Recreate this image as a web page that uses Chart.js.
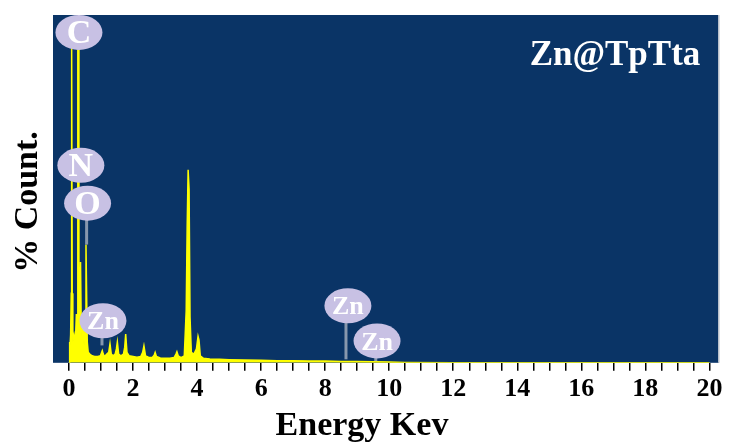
<!DOCTYPE html>
<html>
<head>
<meta charset="utf-8">
<script src="https://cdn.jsdelivr.net/npm/chart.js@4/dist/chart.umd.min.js"></script>
<style>
    body { margin: 0; background: #ffffff; }
    #wrap { width: 729px; height: 443px; }
</style>
</head>
<body>
<div id="wrap"><canvas id="edsChart" width="729" height="443"></canvas></div>
<script>
/* ===================================================== */
/* DATA                                                    */
/* ===================================================== */

// energy (keV) and relative counts (%)
const energy = [
    0.00, 0.01, 0.03, 0.05, 0.07, 0.075, 0.09, 0.10, 0.12, 0.16, 0.20,
    0.23, 0.25, 0.27, 0.28, 0.295, 0.31, 0.33, 0.36, 0.38, 0.41, 0.44,
    0.47, 0.50, 0.53, 0.55, 0.57, 0.60, 0.65, 0.72, 0.80, 0.90,
    0.98, 1.04, 1.07, 1.11, 1.18, 1.24, 1.28, 1.32, 1.38, 1.44,
    1.48, 1.51, 1.55, 1.62, 1.70, 1.74, 1.77, 1.81, 1.88, 2.00,
    2.12, 2.24, 2.30, 2.34, 2.39, 2.48, 2.60, 2.66, 2.69, 2.73,
    2.85, 3.00, 3.15, 3.28, 3.34, 3.37, 3.41, 3.50, 3.60, 3.66,
    3.69, 3.72, 3.75, 3.78, 3.82, 3.90, 3.98, 4.03, 4.06, 4.10,
    4.20, 4.40, 4.70, 5.00, 5.50, 6.00, 6.50, 7.00, 7.50, 8.00,
    8.50, 9.00, 9.50, 10.00, 10.50, 12.00, 16.00, 20.00
];
const counts = [
    0, 6, 3, 8, 20, 93, 93, 20, 6, 8, 6,
    14, 8, 20, 92, 92, 20, 10, 29, 12, 7, 10,
    5, 12, 34, 20, 6, 3, 2.5, 2, 1.8, 1.8,
    2, 3.5, 2.5, 1.8, 2.5, 3, 5.5, 2.5, 2, 2.5,
    4, 6, 2.5, 2, 2.5, 4.5, 8.3, 3, 2, 1.8,
    1.6, 1.8, 3, 4.9, 2, 1.6, 1.5, 2.2, 3, 1.8,
    1.4, 1.3, 1.3, 1.5, 2.5, 3.2, 2, 1.5, 2, 15,
    39, 55.5, 50, 13, 3, 2.5, 4, 7.6, 6.5, 2,
    1.3, 1.1, 1, 0.9, 0.8, 0.7, 0.6, 0.6, 0.5, 0.5,
    0.4, 0.4, 0.3, 0.2, 0.1, 0.05, 0, 0
];

// peak labels: centre of the bubble (keV, %) and where the stem ends (%)
const peakNames = ['C', 'N', 'O', 'Zn', 'Zn', 'Zn'];
const peakEnergy = [0.31, 0.37, 0.58, 1.06, 8.71, 9.62];
const peakLevel = [95, 56.8, 45.9, 12.1, 16.4, 6.3];
const stemEnergy = [0.28, 0.37, 0.55, 1.03, 8.65, 9.58];
const stemEnd = [90, 56.8, 34, 5, 1, 0.5];

const sampleName = 'Zn@TpTta';
const xTitle = 'Energy Kev';
const yTitle = '% Count.';

/* ===================================================== */
/* PLUGINS                                                 */
/* ===================================================== */

const SERIF = "'Liberation Serif', 'Times New Roman', serif";

const backdrop = {
    id: 'backdrop',
    beforeDraw(chart) {
        const { ctx, chartArea: a } = chart;
        ctx.save();
        ctx.fillStyle = '#ffffff';
        ctx.fillRect(0, 0, chart.width, chart.height);
        ctx.fillStyle = '#0a3466';
        ctx.fillRect(a.left, a.top, a.right - a.left, a.bottom - a.top);
        ctx.fillStyle = '#b7bfca';
        ctx.fillRect(a.right - 1, a.top, 1.5, a.bottom - a.top);
        ctx.restore();
    }
};

const peakLabels = {
    id: 'peakLabels',
    afterDatasetsDraw(chart) {
        const { ctx, scales: { x, y } } = chart;
        ctx.save();
        peakNames.forEach((name, i) => {
            const cx = x.getPixelForValue(peakEnergy[i]);
            const cy = y.getPixelForValue(peakLevel[i]);
            const sx = x.getPixelForValue(stemEnergy[i]);
            const sy = y.getPixelForValue(stemEnd[i]);

            // stem
            ctx.strokeStyle = '#8797ad';
            ctx.lineWidth = 3;
            ctx.beginPath();
            ctx.moveTo(sx, cy);
            ctx.lineTo(sx, sy);
            ctx.stroke();

            // bubble
            ctx.fillStyle = '#c8c1e4';
            ctx.beginPath();
            ctx.ellipse(cx, cy, 23.5, 17.5, 0, 0, Math.PI * 2);
            ctx.fill();

            // single letters are set larger than "Zn"
            const size = name.length === 1 ? 34 : 26;
            ctx.fillStyle = '#ffffff';
            ctx.font = 'bold ' + size + 'px ' + SERIF;
            ctx.textAlign = 'center';
            ctx.textBaseline = 'middle';
            ctx.fillText(name, cx, cy + 2);
        });
        ctx.restore();
    }
};

const titles = {
    id: 'titles',
    afterDraw(chart) {
        const { ctx, chartArea: a } = chart;
        ctx.save();
        ctx.fillStyle = '#ffffff';
        ctx.font = 'bold 35px ' + SERIF;
        ctx.textAlign = 'center';
        ctx.textBaseline = 'alphabetic';
        ctx.fillText(sampleName, a.right - 104, a.top + 50);

        ctx.fillStyle = '#000000';
        ctx.font = 'bold 34px ' + SERIF;
        ctx.fillText(xTitle, 362, 435);

        ctx.translate(37, 202);
        ctx.rotate(-Math.PI / 2);
        ctx.fillText(yTitle, 0, 0);
        ctx.restore();
    }
};

/* ===================================================== */
/* CHART                                                   */
/* ===================================================== */

const points = energy.map((e, i) => ({ x: e, y: counts[i] }));

new Chart(document.getElementById('edsChart'), {
    type: 'line',
    data: {
        datasets: [{
            data: points,
            borderColor: '#ffff00',
            backgroundColor: '#ffff00',
            borderWidth: 1.5,
            pointRadius: 0,
            fill: 'origin',
            tension: 0
        }]
    },
    options: {
        responsive: false,
        animation: false,
        devicePixelRatio: 1,
        layout: { padding: { left: 53, right: 10, top: 15, bottom: 35 } },
        plugins: {
            legend: { display: false },
            tooltip: { enabled: false }
        },
        scales: {
            x: {
                type: 'linear',
                min: -0.5,
                max: 20.3,
                border: { display: false },
                grid: {
                    drawOnChartArea: false,
                    drawTicks: true,
                    tickLength: 8,
                    color: '#000000',
                    lineWidth: 1.5
                },
                afterBuildTicks: scale => {
                    scale.ticks = scale.ticks.filter(t => t.value >= 0);
                },
                ticks: {
                    stepSize: 0.5,
                    includeBounds: false,
                    autoSkip: false,
                    maxRotation: 0,
                    color: '#000000',
                    padding: 3,
                    font: { family: SERIF, size: 26, weight: 'bold' },
                    callback: value => (value % 2 === 0 ? String(value) : '')
                }
            },
            y: {
                display: false,
                min: 0,
                max: 100
            }
        }
    },
    plugins: [backdrop, peakLabels, titles]
});
</script>
</body>
</html>
